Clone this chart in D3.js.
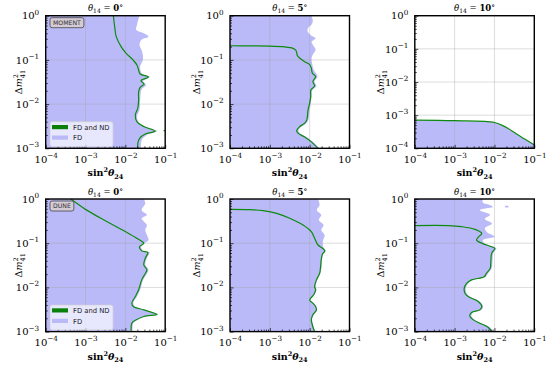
<!DOCTYPE html>
<html>
<head>
<meta charset="utf-8">
<script src="https://cdn.jsdelivr.net/npm/d3@7"></script>
<style>
body { margin: 0; background: #fff; }
</style>
</head>
<body>
<script>
// sensitivity contours, points are [sin^2(theta24), dm^2_41]
// FD only region (blue), read off top to bottom
var moment0_fd = [[2.26e-2,1],[1.95e-2,0.62],[1.86e-2,0.48],[2.9e-2,0.4],[3.8e-2,0.335],[2.57e-2,0.29],[2.26e-2,0.22],[2.57e-2,0.166],[2.75e-2,0.129],[2.75e-2,0.1],[2.35e-2,0.071],[2.57e-2,0.05],[4.07e-2,0.041],[2.75e-2,0.0324],[3.3e-2,0.027],[2.57e-2,0.0216],[2.35e-2,0.0123],[2.26e-2,0.0074],[1.95e-2,0.0052],[2.26e-2,0.0037],[3.47e-2,0.003],[6.2e-2,0.00245],[3.47e-2,0.002],[2.57e-2,0.00155],[2.45e-2,0.001]];
var moment0_nd = [[5.0e-3,1],[5.4e-3,0.56],[5.9e-3,0.335],[7.8e-3,0.2],[1.05e-2,0.141],[1.55e-2,0.1],[1.95e-2,0.077],[2.15e-2,0.059],[2.35e-2,0.048],[3.8e-2,0.041],[2.45e-2,0.034],[2.95e-2,0.0285],[2.35e-2,0.024],[2.15e-2,0.019],[2.15e-2,0.0123],[2.05e-2,0.0081],[1.78e-2,0.0057],[1.95e-2,0.004],[2.9e-2,0.0031],[5.6e-2,0.00245],[3.16e-2,0.0021],[2.3e-2,0.0017],[2.05e-2,0.00129],[2.05e-2,0.001]];
var moment0_nd_edge = [[9.1e-2,0.0025],[0.1,0.0025]];

var moment5_fd = [[1.1e-2,1],[1.2e-2,0.79],[1.12e-2,0.63],[9.1e-3,0.525],[8.9e-3,0.44],[1.07e-2,0.363],[1.41e-2,0.31],[1.12e-2,0.257],[1.2e-2,0.219],[1.41e-2,0.17],[1.26e-2,0.141],[1.12e-2,0.112],[1.17e-2,0.078],[1.26e-2,0.06],[1.58e-2,0.042],[1.32e-2,0.0324],[1.48e-2,0.0257],[1.17e-2,0.0209],[1.12e-2,0.0148],[1.07e-2,0.0105],[1.0e-2,0.0074],[9.3e-3,0.0044],[8.3e-3,0.0037],[6.3e-3,0.0031],[5.2e-3,0.0025],[5.75e-3,0.0022],[8.3e-3,0.0018],[1.2e-2,0.0014],[1.74e-2,0.001]];
var moment5_nd = [[1e-4,0.209],[3.16e-4,0.208],[1e-3,0.204],[2.14e-3,0.2],[3.16e-3,0.19],[3.8e-3,0.182],[4.47e-3,0.166],[4.7e-3,0.148],[4.9e-3,0.126],[5.6e-3,0.11],[7.5e-3,0.091],[1.0e-2,0.078],[1.1e-2,0.065],[1.17e-2,0.05],[1.41e-2,0.042],[1.2e-2,0.0324],[1.33e-2,0.0257],[1.07e-2,0.0209],[1.06e-2,0.0148],[1.0e-2,0.0105],[9.1e-3,0.0074],[8.5e-3,0.0044],[7.5e-3,0.0037],[5.6e-3,0.0031],[4.7e-3,0.0025],[5.1e-3,0.0022],[7.5e-3,0.0018],[1.1e-2,0.0014],[1.62e-2,0.001]];

// theta14 = 10 deg, MOMENT: region lies below the curve
var moment10_fd = [[1e-4,7.0e-4],[1e-3,6.7e-4],[1e-2,5.9e-4],[1.82e-2,4.45e-4],[3.24e-2,2.9e-4],[5.9e-2,1.83e-4],[0.1,1.24e-4]];
var moment10_nd = [[1e-4,7.1e-4],[1e-3,6.8e-4],[1e-2,6.0e-4],[1.82e-2,4.5e-4],[3.24e-2,2.95e-4],[5.9e-2,1.86e-4],[0.1,1.26e-4]];

var dune0_fd = [[2.9e-2,1],[3.16e-2,0.79],[2.57e-2,0.56],[3.47e-2,0.44],[2.57e-2,0.363],[2.9e-2,0.31],[3.47e-2,0.257],[3.16e-2,0.2],[3.47e-2,0.155],[3.8e-2,0.117],[3.0e-2,0.1],[2.5e-2,0.083],[2.8e-2,0.067],[4.0e-2,0.062],[3.47e-2,0.0457],[3.16e-2,0.0324],[3.8e-2,0.0248],[3.3e-2,0.019],[2.8e-2,0.0148],[2.35e-2,0.0087],[1.95e-2,0.0062],[1.58e-2,0.0044],[1.74e-2,0.0037],[3.16e-2,0.0031],[6.8e-2,0.00245],[3.16e-2,0.0022],[1.95e-2,0.0018],[1.58e-2,0.00155],[1.51e-2,0.001]];
var dune0_nd = [[4.3e-4,1],[1.07e-3,0.56],[3.4e-3,0.31],[1.1e-2,0.174],[2.14e-2,0.123],[2.9e-2,0.1],[2.26e-2,0.083],[2.57e-2,0.067],[3.67e-2,0.062],[3.16e-2,0.0457],[2.9e-2,0.0324],[3.47e-2,0.0248],[3.0e-2,0.019],[2.57e-2,0.0148],[2.14e-2,0.0087],[1.78e-2,0.0062],[1.45e-2,0.0044],[1.58e-2,0.0037],[2.9e-2,0.0031],[6.2e-2,0.00245],[2.9e-2,0.0022],[1.78e-2,0.0018],[1.45e-2,0.00155],[1.4e-2,0.001]];

var dune5_fd = [[1.62e-2,1],[1.78e-2,0.73],[1.51e-2,0.56],[1.95e-2,0.44],[1.7e-2,0.335],[2.24e-2,0.257],[1.95e-2,0.2],[2.37e-2,0.153],[2.14e-2,0.108],[2.19e-2,0.083],[2.5e-2,0.067],[2.19e-2,0.057],[2.04e-2,0.042],[2.0e-2,0.0295],[1.86e-2,0.0209],[1.55e-2,0.0148],[1.41e-2,0.0105],[1.48e-2,0.0087],[1.32e-2,0.0068],[1.05e-2,0.0052],[1.26e-2,0.0044],[1.45e-2,0.0038],[1.55e-2,0.0031],[1.26e-2,0.0024],[1.15e-2,0.00184],[1.26e-2,0.00129],[1.41e-2,0.001]];
var dune5_nd = [[1e-4,0.583],[3.16e-4,0.575],[6.8e-4,0.545],[1.48e-3,0.474],[3.16e-3,0.366],[6.8e-3,0.258],[1.1e-2,0.182],[1.33e-2,0.129],[1.62e-2,0.091],[2.1e-2,0.077],[2.4e-2,0.067],[2.1e-2,0.057],[1.95e-2,0.042],[1.88e-2,0.0295],[1.78e-2,0.0209],[1.48e-2,0.0148],[1.33e-2,0.0105],[1.41e-2,0.0087],[1.26e-2,0.0068],[1.0e-2,0.0052],[1.2e-2,0.0044],[1.38e-2,0.0038],[1.48e-2,0.0031],[1.2e-2,0.0024],[1.1e-2,0.00184],[1.2e-2,0.00129],[1.33e-2,0.001]];

var dune10_fd = [[5.1e-3,1],[5.1e-3,0.83],[7.9e-3,0.72],[9.1e-3,0.66],[6.3e-3,0.62],[4.27e-3,0.56],[7.8e-3,0.44],[5.75e-3,0.355],[8.7e-3,0.28],[5.75e-3,0.22],[6.5e-3,0.178],[1.02e-2,0.141],[5.1e-3,0.117],[5.6e-3,0.1],[9.5e-3,0.083],[1.12e-2,0.076],[9.3e-3,0.059],[8.9e-3,0.038],[8.5e-3,0.0269],[6.9e-3,0.0209],[6.0e-3,0.0174],[2.95e-3,0.0148],[2.19e-3,0.0123],[1.9e-3,0.0095],[2.0e-3,0.0074],[2.4e-3,0.0062],[4.27e-3,0.0048],[5.2e-3,0.0037],[4.7e-3,0.0031],[2.95e-3,0.0027],[2.63e-3,0.00226],[3.24e-3,0.00184],[4.7e-3,0.00155],[7.6e-3,0.00126],[9.3e-3,0.001]];
var dune10_fd_island = [[1.85e-2,0.69],[2.25e-2,0.69],[2.25e-2,0.65],[1.85e-2,0.65]];
var dune10_nd = [[1e-4,0.25],[6.9e-4,0.25],[1.48e-3,0.237],[3.24e-3,0.206],[4.8e-3,0.167],[3.9e-3,0.136],[3.55e-3,0.118],[4.8e-3,0.1],[8.5e-3,0.083],[1.02e-2,0.076],[8.5e-3,0.059],[8.1e-3,0.038],[7.8e-3,0.0269],[6.3e-3,0.0209],[5.5e-3,0.0174],[2.66e-3,0.0148],[2.0e-3,0.0123],[1.74e-3,0.0095],[1.82e-3,0.0074],[2.19e-3,0.0062],[3.9e-3,0.0048],[4.8e-3,0.0037],[4.27e-3,0.0031],[2.66e-3,0.0027],[2.4e-3,0.00226],[2.95e-3,0.00184],[4.27e-3,0.00155],[6.9e-3,0.00126],[8.5e-3,0.001]];

// labels and ticks
var angles = [0, 5, 10];
var experiments = ["MOMENT", "DUNE"];
var legendLabels = ["FD and ND", "FD"];
var xTicks = [1e-4, 1e-3, 1e-2, 1e-1];
var yTicks = [1e-3, 1e-2, 1e-1, 1];
var yTicksWide = [1e-4, 1e-3, 1e-2, 1e-1, 1];

var blue = "#babaf9";
var green = "#0d8a0d";
var serif = "DejaVu Serif";
var sans = "DejaVu Sans";

//panel grid positions
var colLeft = [45.7, 230, 414.8];
var rowTop = [15.7, 199];
var ylabOffset = [-24, -30, -31];
var pw = 119.5, ph = 132.6;

var svg = d3.select("body").append("svg")
    .attr("width", 550)
    .attr("height", 365)
    .style("font-family", serif);

var panels = [
    {row: 0, col: 0, fd: moment0_fd, nd: moment0_nd, extra: moment0_nd_edge, fill: "left", ymin: 1e-3},
    {row: 0, col: 1, fd: moment5_fd, nd: moment5_nd, fill: "left", ymin: 1e-3},
    {row: 0, col: 2, fd: moment10_fd, nd: moment10_nd, fill: "below", ymin: 1e-4},
    {row: 1, col: 0, fd: dune0_fd, nd: dune0_nd, fill: "left", ymin: 1e-3},
    {row: 1, col: 1, fd: dune5_fd, nd: dune5_nd, fill: "left", ymin: 1e-3},
    {row: 1, col: 2, fd: dune10_fd, nd: dune10_nd, island: dune10_fd_island, fill: "left", ymin: 1e-3}
];

//minor tick positions for a log range
function minors(lo, hi) {
    var m = [];
    for (var d = lo; d < hi * 0.99; d *= 10) {
        for (var k = 2; k < 10; k++) m.push(d * k);
    }
    return m;
}

// "10" with a raised exponent
function powLabel(sel) {
    sel.each(function(d) {
        var t = d3.select(this);
        if (t.text() === "") return;
        var e = Math.round(Math.log10(d));
        t.text("10");
        t.append("tspan").attr("dy", -4.8).style("font-size", "7.2px")
            .text(e < 0 ? "\u2212" + (-e) : "" + e);
    });
}

panels.forEach(function(p, i) {
    var g = svg.append("g")
        .attr("transform", "translate(" + colLeft[p.col] + "," + rowTop[p.row] + ")");

    var x = d3.scaleLog().domain([1e-4, 1e-1]).range([0, pw]);
    var y = d3.scaleLog().domain([p.ymin, 1]).range([ph, 0]);
    var yt = p.ymin < 1e-3 ? yTicksWide : yTicks;

    var clipId = "clip" + i;
    g.append("clipPath").attr("id", clipId)
        .append("rect").attr("width", pw).attr("height", ph);
    var plot = g.append("g").attr("clip-path", "url(#" + clipId + ")");

    //blue FD region
    var area;
    if (p.fill === "left") {
        area = d3.area()
            .y(function(d) { return y(d[1]); })
            .x0(0)
            .x1(function(d) { return x(d[0]); })
            .curve(d3.curveCatmullRom);
    } else {
        area = d3.area()
            .x(function(d) { return x(d[0]); })
            .y0(ph)
            .y1(function(d) { return y(d[1]); })
            .curve(d3.curveCatmullRom);
    }
    plot.append("path").datum(p.fd).attr("d", area).attr("fill", blue);
    if (p.island) {
        plot.append("path").datum(p.island)
            .attr("d", d3.line().x(function(d) { return x(d[0]); }).y(function(d) { return y(d[1]); }).curve(d3.curveCatmullRomClosed))
            .attr("fill", blue);
    }

    //grid
    plot.selectAll(".gx").data(xTicks).enter().append("line")
        .attr("x1", function(d) { return x(d); }).attr("x2", function(d) { return x(d); })
        .attr("y1", 0).attr("y2", ph)
        .attr("stroke", "#a0a0a0").attr("stroke-opacity", 0.45).attr("stroke-width", 0.8);
    plot.selectAll(".gy").data(yt).enter().append("line")
        .attr("y1", function(d) { return y(d); }).attr("y2", function(d) { return y(d); })
        .attr("x1", 0).attr("x2", pw)
        .attr("stroke", "#a0a0a0").attr("stroke-opacity", 0.45).attr("stroke-width", 0.8);

    //green FD and ND contour
    var line = d3.line()
        .x(function(d) { return x(d[0]); })
        .y(function(d) { return y(d[1]); })
        .curve(d3.curveCatmullRom);
    plot.append("path").datum(p.nd).attr("d", line)
        .attr("fill", "none").attr("stroke", green).attr("stroke-width", 1.2);
    if (p.extra) {
        plot.append("path").datum(p.extra).attr("d", line)
            .attr("fill", "none").attr("stroke", green).attr("stroke-width", 1.2);
    }

    //axes with inward ticks
    var ax = g.append("g").attr("transform", "translate(0," + ph + ")")
        .call(d3.axisBottom(x).tickValues(xTicks).tickSizeInner(-3.5).tickSizeOuter(0).tickPadding(7.5));
    ax.selectAll("text").call(powLabel);
    g.append("g").attr("transform", "translate(0," + ph + ")")
        .call(d3.axisBottom(x).tickValues(minors(1e-4, 1e-1)).tickSizeInner(-2).tickSizeOuter(0).tickFormat(""));
    var ay = g.append("g")
        .call(d3.axisLeft(y).tickValues(yt).tickSizeInner(-3.5).tickSizeOuter(0).tickPadding(6.5));
    ay.selectAll("text").call(powLabel);
    g.append("g")
        .call(d3.axisLeft(y).tickValues(minors(p.ymin, 1)).tickSizeInner(-2).tickSizeOuter(0).tickFormat(""));

    g.selectAll(".domain").remove();
    g.selectAll(".tick line").attr("stroke", "#000").attr("stroke-width", 0.7);
    g.selectAll(".tick text").attr("font-size", 10).attr("fill", "#000")
        .attr("font-family", serif);

    //spines
    g.append("rect").attr("width", pw).attr("height", ph)
        .attr("fill", "none").attr("stroke", "#000").attr("stroke-width", 1.4);

    //title
    var tt = g.append("text").attr("x", pw / 2).attr("y", -4.5)
        .attr("text-anchor", "middle").attr("font-size", 8.5);
    tt.append("tspan").attr("font-style", "italic").text("\u03b8");
    tt.append("tspan").attr("dy", 2).attr("font-size", 6).text("14");
    tt.append("tspan").attr("dy", -2).text(" = ");
    tt.append("tspan").attr("font-weight", "bold").text(angles[p.col]);
    tt.append("tspan").attr("dy", -1).attr("font-size", 7.5).text("\u00b0");

    //x label
    var xl = g.append("text").attr("x", pw / 2).attr("y", ph + 28)
        .attr("text-anchor", "middle").attr("font-size", 9.5).attr("font-weight", "bold");
    xl.append("tspan").text("sin");
    xl.append("tspan").attr("dy", -4).attr("font-size", 6.5).text("2");
    xl.append("tspan").attr("dy", 4).attr("font-style", "italic").text("\u03b8");
    xl.append("tspan").attr("dy", 2.5).attr("font-size", 6.5).text("24");

    //y label
    var yl = g.append("text")
        .attr("transform", "translate(" + ylabOffset[p.col] + "," + (ph / 2) + ") rotate(-90)")
        .attr("text-anchor", "middle").attr("font-size", 9.5);
    yl.append("tspan").text("\u0394");
    yl.append("tspan").attr("font-style", "italic").text("m");
    yl.append("tspan").attr("dy", -4).attr("font-size", 6.5).text("2");
    yl.append("tspan").attr("dx", -4).attr("dy", 7).attr("font-size", 6.5).text("41");

    if (p.col === 0) {
        //experiment tag
        var tag = g.append("g").attr("transform", "translate(4.3,2)");
        var tr = tag.append("rect").attr("rx", 2).attr("height", 10)
            .attr("fill", "#d4cbd6").attr("stroke", "#444").attr("stroke-width", 0.8);
        var tx = tag.append("text").attr("x", 3).attr("y", 7.4)
            .style("font-family", sans).attr("font-size", 6.2).attr("fill", "#333")
            .text(experiments[p.row]);
        tr.attr("width", tx.node().getComputedTextLength() + 6);

        //legend
        var lg = g.append("g").attr("transform", "translate(4.3," + (ph - 26.6) + ")");
        lg.append("rect").attr("width", 63).attr("height", 25).attr("rx", 2)
            .attr("fill", "#fff").attr("fill-opacity", 0.65)
            .attr("stroke", "#d0d0d0").attr("stroke-width", 0.7);
        legendLabels.forEach(function(lab, k) {
            lg.append("rect").attr("x", 2).attr("y", 3.3 + k * 10.5)
                .attr("width", 16).attr("height", 4.2)
                .attr("fill", k === 0 ? "#0a800a" : blue);
            lg.append("text").attr("x", 23).attr("y", 8.3 + k * 10.5)
                .style("font-family", sans).attr("font-size", 6.8).attr("fill", "#222")
                .text(lab);
        });
    }
});
</script>
</body>
</html>
